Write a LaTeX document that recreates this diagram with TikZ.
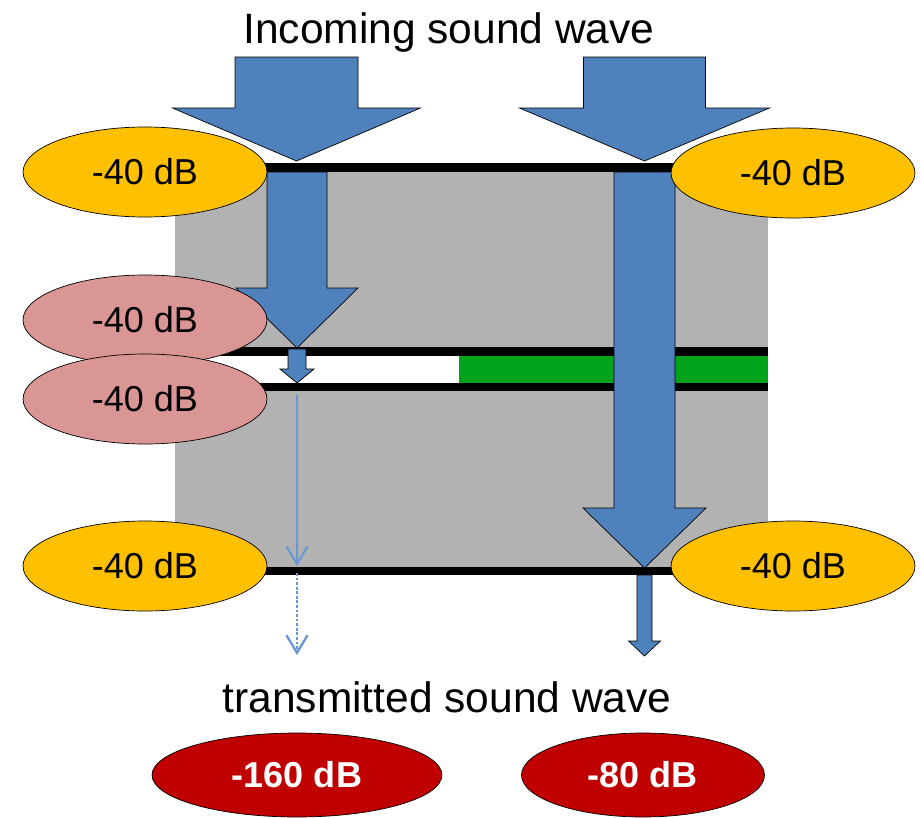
\documentclass[tikz,border=0pt]{standalone}
\usepackage{fontspec}
\setmainfont{Liberation Sans}
\usetikzlibrary{arrows.meta,shapes.geometric}

\definecolor{wave}{HTML}{4F81BD}
\definecolor{thinwave}{HTML}{6A98D4}
\definecolor{level}{HTML}{FFC000}
\definecolor{inner}{HTML}{DA9694}
\definecolor{result}{HTML}{C00000}
\definecolor{wall}{HTML}{B2B2B2}
\definecolor{damper}{HTML}{00A31A}

\tikzset{
  db/.style={ellipse,draw,thin,fill=level,inner sep=0pt,
    minimum width=4.88cm,minimum height=1.8cm,font=\fontsize{20.5}{24}\selectfont},
  dbinner/.style={db,fill=inner},
  dbout/.style={db,fill=result,text=white,minimum height=1.68cm,
    font=\fontsize{20.5}{24}\selectfont\bfseries},
  plate/.style={line width=5.1pt},
  title/.style={anchor=base,font=\fontsize{24.2}{28}\selectfont}
}

% block arrow: centre x, top y, shaft half width, head y, head half width, tip y
\newcommand{\soundarrow}[6]{%
  \draw[fill=wave,thin] (#1-#3,#2) -- (#1+#3,#2) -- (#1+#3,#4) -- (#1+#5,#4)
    -- (#1,#6) -- (#1-#5,#4) -- (#1-#3,#4) -- cycle;}

\begin{document}
\begin{tikzpicture}[x=.02cm,y=-.02cm,line join=miter]
  \useasboundingbox (0,0) rectangle (920,818);

  \fill[wall] (175,167) rectangle (768,571);
  \fill[white] (175,352) rectangle (459,387);
  \fill[damper] (459,352) rectangle (768,387);
  \draw[plate] (175,167.5) -- (768,167.5);
  \draw[plate] (175,351.5) -- (768,351.5);
  \draw[plate] (175,387) -- (768,387);
  \draw[plate] (175,571) -- (768,571);

  \soundarrow{296.5}{57}{61.5}{108}{124}{161}
  \soundarrow{644.5}{57}{61}{108}{125}{161}
  \soundarrow{297}{172}{30}{288}{61}{348}
  \soundarrow{297}{349}{9}{369}{17}{383}
  \soundarrow{644.5}{172}{30.5}{508}{61.5}{568}
  \soundarrow{644.5}{575}{7.5}{641}{16}{656}

  \coordinate (s1) at (297,395);
  \coordinate (s2) at (297,566);
  \coordinate (d1) at (297,573);
  \coordinate (d2) at (297,655);
  \draw[thinwave,line width=1.2pt,-{Straight Barb[length=10pt,width=12pt]}] (s1) -- (s2);
  \draw[thinwave,line width=1.3pt,dash pattern=on 1.6pt off 1pt,
    -{Straight Barb[length=10pt,width=12pt]}] (d1) -- (d2);

  \node[title] (inc) at (449,43) {Incoming sound wave};
  \node[title] (trans) at (447,712) {transmitted sound wave};

  \node[db] (tl) at (145,172) {-40 dB};
  \node[db] (tr) at (793,173) {-40 dB};
  \node[dbinner] (ml) at (145,320) {-40 dB};
  \node[dbinner] (nl) at (145,399) {-40 dB};
  \node[db] (bl) at (145,566) {-40 dB};
  \node[db] (br) at (793,566) {-40 dB};
  \node[dbout,minimum width=5.8cm] (outl) at (297,775) {-160 dB};
  \node[dbout,minimum width=4.86cm] (outr) at (643,775) {-80 dB};
\end{tikzpicture}
\end{document}
